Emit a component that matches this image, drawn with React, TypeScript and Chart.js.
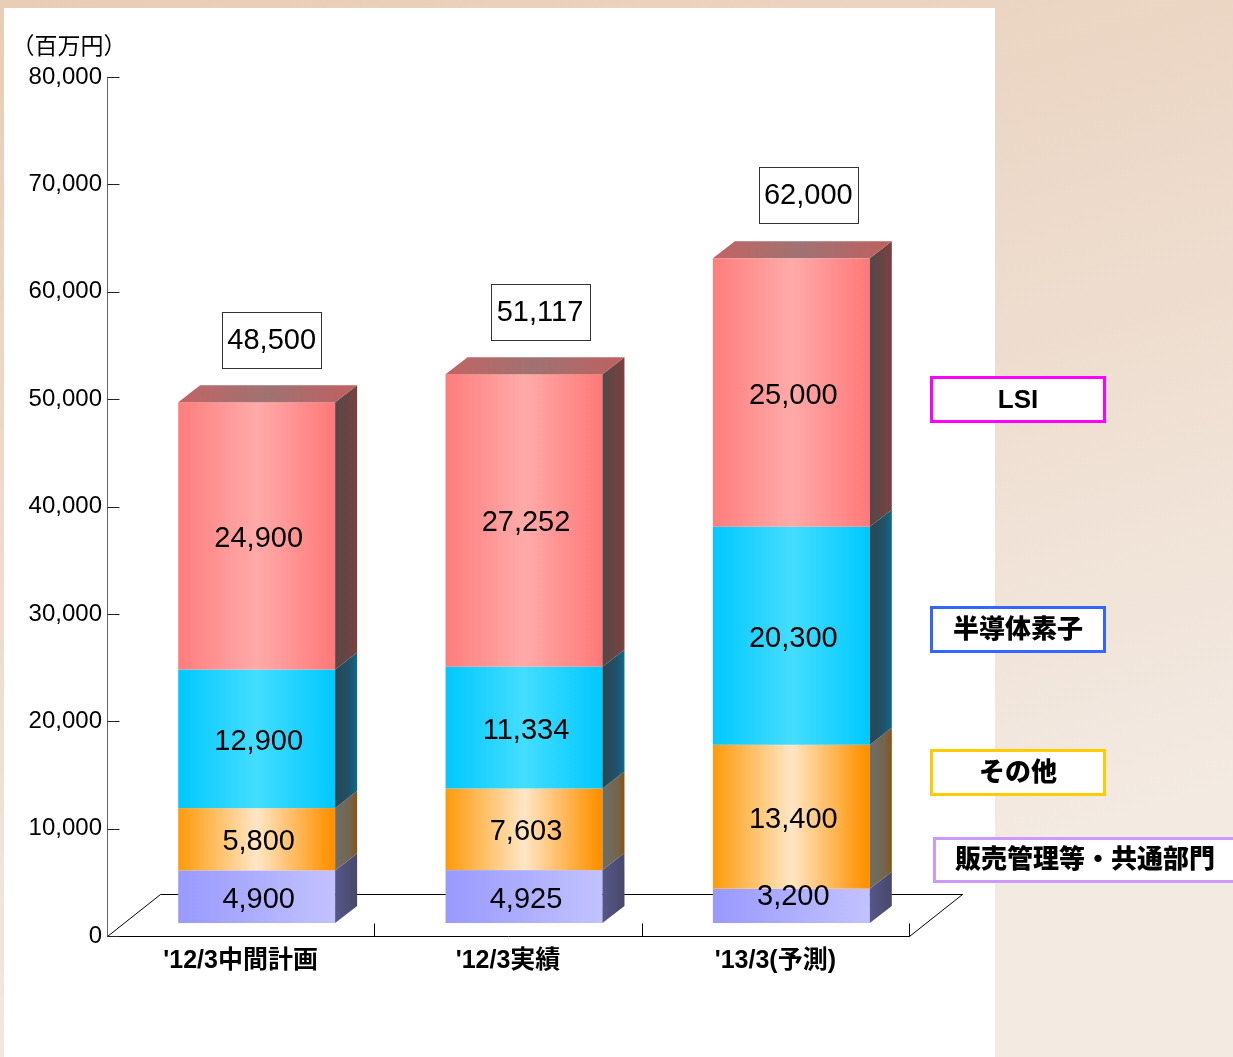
import React, { useEffect, useRef } from "react";
import { Chart, registerables } from "chart.js";

Chart.register(...registerables);

// ---------- data ----------
const CATEGORIES = ["'12/3中間計画", "'12/3実績", "'13/3(予測)"];
const SERIES_NAMES = ["販売管理等・共通部門", "その他", "半導体素子", "LSI"];
const COMMON_VALUES = [4900, 4925, 3200];
const OTHER_VALUES = [5800, 7603, 13400];
const SEMI_VALUES = [12900, 11334, 20300];
const LSI_VALUES = [24900, 27252, 25000];
const TOTALS = [48500, 51117, 62000];
const Y_MIN = 0;
const Y_MAX = 80000;
const Y_STEP = 10000;
const UNIT_LABEL = "（百万円）";

const SERIES_VALUES = [COMMON_VALUES, OTHER_VALUES, SEMI_VALUES, LSI_VALUES];

// ---------- styles ----------
type Stop = [number, string];
const STYLES: { front: Stop[]; side: Stop[]; top?: Stop[]; legend: string }[] = [
  {
    front: [[0, "#9999FF"], [1, "#C2C2FF"]],
    side: [[0, "#56568A"], [1, "#48486A"]],
    legend: "#CC99FF",
  },
  {
    front: [[0, "#FF9A08"], [0.5, "#FFE6C6"], [0.97, "#FF9200"], [1, "#FF9000"]],
    side: [[0, "#6E6E66"], [0.7, "#74644C"], [1, "#8A5210"]],
    legend: "#FFCC00",
  },
  {
    front: [[0, "#00C8FF"], [0.5, "#44DDFF"], [1, "#00C8FF"]],
    side: [[0, "#2A4650"], [0.6, "#20506A"], [1, "#0E6A8A"]],
    legend: "#3366FF",
  },
  {
    front: [[0, "#FF7C7C"], [0.5, "#FFAAAA"], [1, "#FF7878"]],
    side: [[0, "#554848"], [1, "#7A4040"]],
    top: [[0, "#C26464"], [0.5, "#A07272"], [1, "#C06060"]],
    legend: "#FF00FF",
  },
];

// legend box layout (y centres and extents)
const LEGEND_LAYOUT = [
  { x: 933, y: 837, w: 320, h: 46, tx: 955, align: "left" as CanvasTextAlign },
  { x: 930, y: 749, w: 176, h: 47 },
  { x: 930, y: 606, w: 176, h: 47 },
  { x: 930, y: 376, w: 176, h: 47 },
];

const FONT_LATIN = '"Liberation Sans", Arial, "Noto Sans CJK JP", sans-serif';
const FONT_NARROW = '"Liberation Sans Narrow", "Liberation Sans", "Noto Sans CJK JP", sans-serif';
const FONT_JP = '"Noto Sans CJK JP", sans-serif';

const BAR_DX = 16;
const BAR_DY = -13;
const DEPTH_X = 22;
const DEPTH_Y = -17;
const FLOOR_X = 53;
const FLOOR_Y = -42;

const fmt = (v: number) => Number(v).toLocaleString("en-US");

function grad(ctx: CanvasRenderingContext2D, x0: number, x1: number, stops: Stop[]) {
  const g = ctx.createLinearGradient(x0, 0, x1, 0);
  stops.forEach(([o, c]) => g.addColorStop(o, c));
  return g;
}

const pseudo3d = {
  id: "pseudo3d",
  beforeDraw(chart: any) {
    const { ctx, width, height } = chart;
    ctx.save();
    const g = ctx.createLinearGradient(0, 0, width * 0.25, height);
    g.addColorStop(0, "#E8CDB7");
    g.addColorStop(1, "#F3EAE2");
    ctx.fillStyle = g;
    ctx.fillRect(0, 0, width, height);
    ctx.fillStyle = "#FFFFFF";
    ctx.fillRect(4, 8, 991, height - 8);
    ctx.restore();
  },
  beforeDatasetsDraw(chart: any) {
    const { ctx, chartArea: a } = chart;
    const ys = chart.scales.y;
    ctx.save();
    ctx.strokeStyle = "#000";
    ctx.lineWidth = 1;
    const b = Math.round(a.bottom) + 0.5;
    const l = Math.round(a.left) + 0.5;
    const r = Math.round(a.right) + 0.5;
    // floor
    ctx.beginPath();
    ctx.moveTo(l, b);
    ctx.lineTo(l + FLOOR_X, b + FLOOR_Y);
    ctx.lineTo(r + FLOOR_X, b + FLOOR_Y);
    ctx.lineTo(r, b);
    ctx.lineTo(l, b);
    ctx.stroke();
    // category tick marks
    const n = chart.data.labels.length;
    const step = (a.right - a.left) / n;
    ctx.beginPath();
    for (let i = 1; i <= n; i++) {
      const x = Math.round(a.left + i * step) + 0.5;
      ctx.moveTo(x, b);
      ctx.lineTo(x, b + BAR_DY);
    }
    ctx.stroke();
    // y axis line
    ctx.strokeStyle = "#666";
    ctx.beginPath();
    ctx.moveTo(l, Math.round(a.top));
    ctx.lineTo(l, b);
    ctx.stroke();
    // y ticks (inward)
    ctx.strokeStyle = "#222";
    ctx.beginPath();
    ys.ticks.forEach((t: any) => {
      const y = Math.round(ys.getPixelForValue(t.value)) + 0.5;
      ctx.moveTo(l, y);
      ctx.lineTo(l + 12, y);
    });
    ctx.stroke();
    ctx.restore();
  },
  afterDatasetsDraw(chart: any) {
    const { ctx } = chart;
    const xs = chart.scales.x;
    const ys = chart.scales.y;
    const nSets = chart.data.datasets.length;
    ctx.save();
    // bars
    for (let d = 0; d < nSets; d++) {
      const meta = chart.getDatasetMeta(d);
      const st = STYLES[d];
      meta.data.forEach((el: any) => {
        const p = el.getProps(["x", "y", "base", "width"], true);
        const x0 = p.x - p.width / 2 + BAR_DX;
        const x1 = p.x + p.width / 2 + BAR_DX;
        const yt = Math.min(p.y, p.base) + BAR_DY;
        const yb = Math.max(p.y, p.base) + BAR_DY;
        // front
        ctx.fillStyle = grad(ctx, x0, x1, st.front);
        ctx.fillRect(x0, yt, x1 - x0, yb - yt);
        // side
        ctx.fillStyle = grad(ctx, x1, x1 + DEPTH_X, st.side);
        ctx.beginPath();
        ctx.moveTo(x1, yt);
        ctx.lineTo(x1 + DEPTH_X, yt + DEPTH_Y);
        ctx.lineTo(x1 + DEPTH_X, yb + DEPTH_Y);
        ctx.lineTo(x1, yb);
        ctx.closePath();
        ctx.fill();
        // top
        if (st.top) {
          ctx.fillStyle = grad(ctx, x0, x1 + DEPTH_X, st.top);
          ctx.beginPath();
          ctx.moveTo(x0, yt);
          ctx.lineTo(x0 + DEPTH_X, yt + DEPTH_Y);
          ctx.lineTo(x1 + DEPTH_X, yt + DEPTH_Y);
          ctx.lineTo(x1, yt);
          ctx.closePath();
          ctx.fill();
        }
      });
    }
    // segment labels
    ctx.fillStyle = "#000";
    ctx.font = `29px ${FONT_LATIN}`;
    ctx.textAlign = "center";
    ctx.textBaseline = "middle";
    for (let d = 0; d < nSets; d++) {
      const meta = chart.getDatasetMeta(d);
      const vals = chart.data.datasets[d].data;
      meta.data.forEach((el: any, j: number) => {
        const p = el.getProps(["x", "y", "base"], true);
        const h = Math.abs(p.base - p.y);
        const top = Math.min(p.y, p.base) + BAR_DY;
        const cy = h < 45 ? top + 8 : top + h / 2 + 3;
        ctx.fillText(fmt(vals[j]), p.x + BAR_DX + 2, cy);
      });
    }
    // total boxes
    TOTALS.forEach((t, j) => {
      const cx = xs.getPixelForValue(j) + 31 + j;
      const cy = ys.getPixelForValue(t) - 75;
      const w = 99;
      const h = 56;
      const bx = Math.round(cx - w / 2) + 0.5;
      const by = Math.round(cy - h / 2) + 0.5;
      ctx.fillStyle = "#FFF";
      ctx.fillRect(bx, by, w, h);
      ctx.strokeStyle = "#333";
      ctx.lineWidth = 1;
      ctx.strokeRect(bx, by, w, h);
      ctx.fillStyle = "#000";
      ctx.font = `29px ${FONT_LATIN}`;
      ctx.textAlign = "center";
      ctx.textBaseline = "middle";
      ctx.fillText(fmt(t), cx, cy + 1);
    });
    // legend boxes
    for (let d = 0; d < nSets; d++) {
      const L = LEGEND_LAYOUT[d];
      ctx.fillStyle = "#FFF";
      ctx.fillRect(L.x, L.y, L.w, L.h);
      ctx.strokeStyle = STYLES[d].legend;
      ctx.lineWidth = 3;
      ctx.strokeRect(L.x + 1.5, L.y + 1.5, L.w - 3, L.h - 3);
      ctx.fillStyle = "#000";
      ctx.font = `900 26px ${FONT_LATIN}`;
      ctx.textBaseline = "middle";
      if (L.align === "left") {
        ctx.textAlign = "left";
        ctx.fillText(chart.data.datasets[d].label, L.tx, L.y + L.h / 2 + 1);
      } else {
        ctx.textAlign = "center";
        ctx.fillText(chart.data.datasets[d].label, L.x + L.w / 2, L.y + L.h / 2 + 1);
      }
    }
    // unit label
    ctx.fillStyle = "#000";
    ctx.font = `23px ${FONT_JP}`;
    ctx.textAlign = "center";
    ctx.textBaseline = "middle";
    ctx.fillText(UNIT_LABEL, 69, 45);
    ctx.restore();
  },
};

export default function App() {
  const ref = useRef<HTMLCanvasElement>(null);
  useEffect(() => {
    document.body.style.margin = "0";
    const canvas = ref.current!;
    const chart = new Chart(canvas, {
      type: "bar",
      data: {
        labels: CATEGORIES,
        datasets: SERIES_NAMES.map((name, i) => ({
          label: name,
          data: SERIES_VALUES[i],
          backgroundColor: "rgba(0,0,0,0)",
          borderWidth: 0,
          categoryPercentage: 1,
          barPercentage: 0.587,
        })),
      },
      options: {
        responsive: false,
        animation: false,
        devicePixelRatio: 1,
        layout: { padding: { left: 0, right: 324, top: 77, bottom: 61 } },
        plugins: { legend: { display: false }, tooltip: { enabled: false }, title: { display: false } },
        scales: {
          x: {
            stacked: true,
            grid: { display: false, drawTicks: false },
            border: { display: false },
            ticks: {
              padding: 10,
              color: "#000",
              maxRotation: 0,
              autoSkip: false,
              font: { family: FONT_NARROW, size: 25, weight: "bold" },
            },
            afterFit: (s: any) => {
              s.height = 60;
            },
          },
          y: {
            stacked: true,
            min: Y_MIN,
            max: Y_MAX,
            grid: { display: false, drawTicks: false },
            border: { display: false },
            ticks: {
              stepSize: Y_STEP,
              padding: 5,
              color: "#000",
              font: { family: FONT_LATIN, size: 24 },
              callback: (v: any) => fmt(v),
            },
            afterFit: (s: any) => {
              s.width = 107;
            },
          },
        },
      } as any,
      plugins: [pseudo3d],
    });
    return () => chart.destroy();
  }, []);
  return <canvas ref={ref} width={1233} height={1057} style={{ display: "block" }} />;
}
